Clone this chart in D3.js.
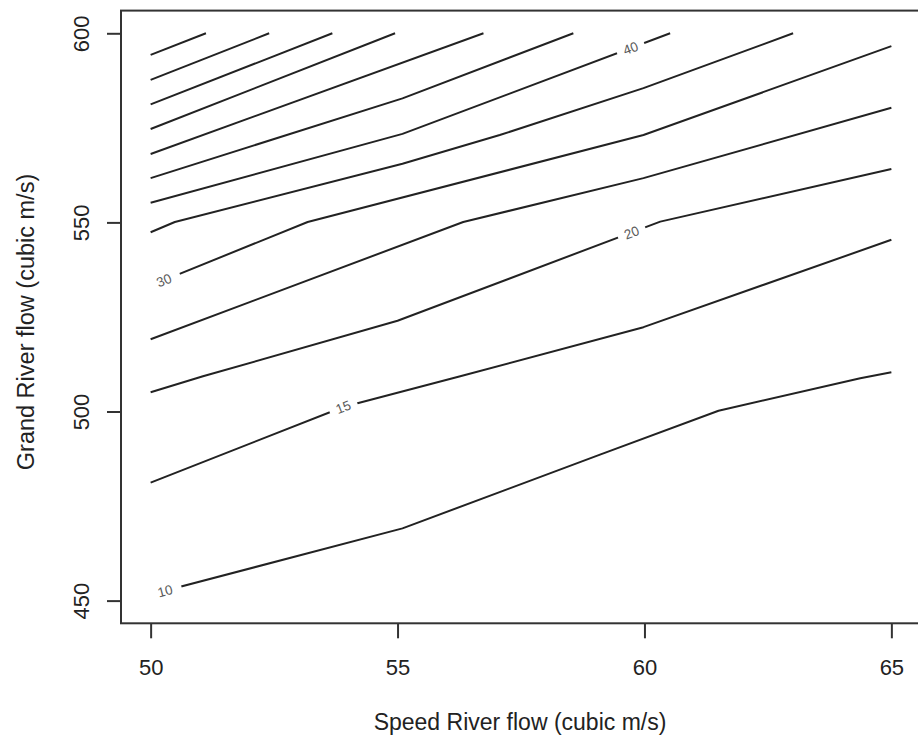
<!DOCTYPE html>
<html><head><meta charset="utf-8">
<script src="https://cdn.jsdelivr.net/npm/d3@7/dist/d3.min.js"></script>
<style>body{margin:0;background:#fff} svg{display:block}</style>
</head><body>
<script>
// contour levels (z) and the traced contour lines, in data units [Speed flow, Grand flow]
const levels = [10,15,20,25,30,35,40,45,50,55,60,65,70];
const c10 = [[50,451.6],[55.1,469.1],[59.1,488.6],[61.5,500.2],[64.37,508.8],[65,510.4]];
const c15 = [[50,481.2],[53.9,501.2],[56.27,509.3],[59.98,522.3],[65,545.4]];
const c20 = [[50,505.1],[51.06,509.3],[55,524.0],[60.32,550.2],[65,564.1]];
const c25 = [[50,519.1],[56.33,550.1],[59.98,561.7],[65,580.3]];
const c30 = [[50,533.3],[53.18,550.1],[59.98,573.1],[65,596.6]];
const c35 = [[50,547.4],[50.49,550.1],[55.1,565.5],[57.07,573.1],[59.98,585.5],[63.01,600]];
const c40 = [[50,555.2],[55.1,573.4],[60.52,600]];
const c45 = [[50,561.7],[55.1,582.8],[58.56,600]];
const c50 = [[50,568.1],[56.74,600]];
const c55 = [[50,574.7],[54.95,600]];
const c60 = [[50,581.2],[53.68,600]];
const c65 = [[50,587.7],[52.40,600]];
const c70 = [[50,594.3],[51.12,600]];
const contourLines = [c10,c15,c20,c25,c30,c35,c40,c45,c50,c55,c60,c65,c70];

// labelled contours and the Speed-flow value where each label sits
const labelLevels = [10,15,20,30,40];
const labelX = [50.29,53.9,59.74,50.27,59.72];

const xTicks = [50,55,60,65];
const yTicks = [450,500,550,600];
const xTitle = "Speed River flow (cubic m/s)";
const yTitle = "Grand River flow (cubic m/s)";

const W = 918, H = 738;
const plot = {left:121, right:921, top:10.6, bottom:623.3};
const x = d3.scaleLinear().domain([49.4,65.6]).range([plot.left, plot.right]);
const y = d3.scaleLinear().domain([444,606]).range([plot.bottom, plot.top]);

const svg = d3.select("body").append("svg").attr("width",W).attr("height",H);
const font = "'Liberation Sans', Arial, Helvetica, sans-serif";
const ink = "#222";

const line = d3.line().x(d=>x(d[0])).y(d=>y(d[1]));
svg.append("g").selectAll("path").data(contourLines).join("path")
  .attr("d", line).attr("fill","none").attr("stroke", ink)
  .attr("stroke-width",2).attr("stroke-linejoin","round");

// labels
labelLevels.forEach((lev,i)=>{
  const pts = contourLines[levels.indexOf(lev)];
  const lx = labelX[i];
  let k = 0;
  while (k < pts.length-2 && pts[k+1][0] < lx) k++;
  const a = pts[k], b = pts[k+1];
  const t = (lx-a[0])/(b[0]-a[0]);
  const ly = a[1] + t*(b[1]-a[1]);
  const px = x(lx), py = y(ly);
  const ang = Math.atan2(y(b[1])-y(a[1]), x(b[0])-x(a[0]))*180/Math.PI;
  const g = svg.append("g").attr("transform",`translate(${px},${py}) rotate(${ang})`);
  const gw = (lx < 51) ? 34 : 29;
  g.append("rect").attr("x",-gw/2).attr("y",-6).attr("width",gw).attr("height",12).attr("fill","#fff");
  g.append("text").text(lev).attr("text-anchor","middle").attr("dy","0.36em")
    .attr("font-family",font).attr("font-size",13.5).attr("fill","#5a5a5a");
});

// box
svg.append("rect").attr("x",plot.left).attr("y",plot.top)
  .attr("width",plot.right-plot.left).attr("height",plot.bottom-plot.top)
  .attr("fill","none").attr("stroke","#333").attr("stroke-width",2);

// x axis
const xa = svg.append("g").attr("transform",`translate(0,${plot.bottom})`)
  .call(d3.axisBottom(x).tickValues(xTicks).tickSize(15).tickPadding(21).tickFormat(d3.format("d")));
xa.select(".domain").remove();
xa.selectAll("line").attr("stroke","#333").attr("stroke-width",2);
xa.selectAll("text").attr("font-family",font).attr("font-size",22).attr("fill",ink);

// y axis
const ya = svg.append("g").attr("transform",`translate(${plot.left},0)`)
  .call(d3.axisLeft(y).tickValues(yTicks).tickSize(14).tickFormat(d3.format("d")));
ya.select(".domain").remove();
ya.selectAll("line").attr("stroke","#333").attr("stroke-width",2);
ya.selectAll("text").remove();
ya.selectAll(".tick").append("text")
  .attr("transform","translate(-32,0) rotate(-90)")
  .attr("text-anchor","middle").attr("font-family",font).attr("font-size",22).attr("fill",ink)
  .text(d=>d);

// titles
svg.append("text").attr("x",520).attr("y",730)
  .attr("text-anchor","middle").attr("font-family",font).attr("font-size",23).attr("fill",ink)
  .text(xTitle);
svg.append("text").attr("transform",`translate(34,322) rotate(-90)`)
  .attr("text-anchor","middle").attr("font-family",font).attr("font-size",23.5).attr("fill",ink)
  .text(yTitle);
</script>
</body></html>
